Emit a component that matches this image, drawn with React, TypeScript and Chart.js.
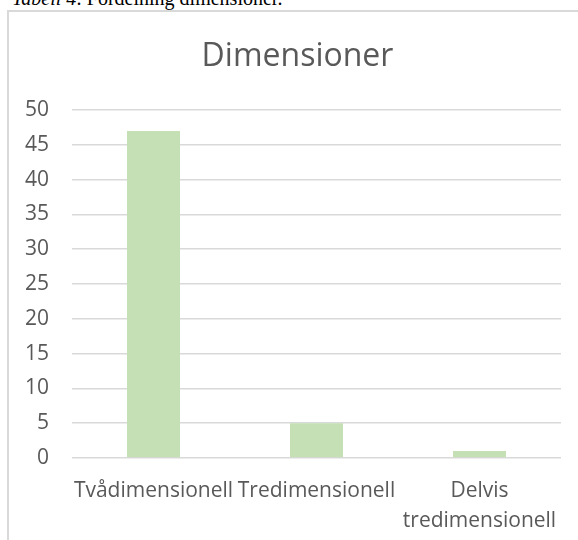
import React, { useEffect, useRef } from "react";
import { Chart, registerables } from "chart.js";

Chart.register(...registerables);

const categories: (string | string[])[] = ["Tvådimensionell", "Tredimensionell", ["Delvis", "tredimensionell"]];
const values: number[] = [47, 5, 1];
const chartTitle = "Dimensioner";
const captionItalic = "Tabell 4";
const captionRest = ": Fördelning dimensioner.";

const W = 578;
const H = 540;
const CW = 595;

export default function App() {
  const ref = useRef<HTMLCanvasElement | null>(null);

  useEffect(() => {
    document.body.style.overflow = "hidden";
    const canvas = ref.current;
    if (!canvas) return;
    const chart = new Chart(canvas, {
      type: "bar",
      data: {
        labels: categories as any,
        datasets: [
          {
            data: values,
            backgroundColor: "#c5e0b4",
            borderWidth: 0,
            categoryPercentage: 1,
            barPercentage: 0.325,
            yAxisID: "y",
          },
        ],
      },
      options: {
        responsive: false,
        animation: false,
        devicePixelRatio: 1,
        layout: { padding: { left: 0, right: 0, top: 0, bottom: 0 } },
        plugins: {
          legend: { display: false },
          tooltip: { enabled: false },
          title: {
            display: true,
            text: chartTitle,
            color: "#595959",
            font: { family: "'Open Sans'", size: 32, weight: "normal", lineHeight: 1.2 },
            padding: { top: 37.5, bottom: 34.1 },
          },
        },
        scales: {
          x: {
            grid: { display: false },
            border: { display: false },
            ticks: {
              color: "#595959",
              font: { family: "'Open Sans'", size: 21, lineHeight: 1.43 },
              padding: 10,
              maxRotation: 0,
              autoSkip: false,
            },
            afterFit: (scale: any) => {
              scale.height = 82;
            },
          },
          y: {
            min: 0,
            max: 50,
            border: { display: false },
            grid: { color: "#d9d9d9", lineWidth: 1.5, drawTicks: false },
            ticks: {
              stepSize: 5,
              color: "#595959",
              font: { family: "'Open Sans'", size: 21 },
              padding: 23,
            },
            afterFit: (scale: any) => {
              scale.width = 72;
            },
          },
          yRight: {
            position: "right",
            display: true,
            min: 0,
            max: 50,
            border: { display: false },
            grid: { display: false, drawTicks: false },
            ticks: { display: false },
            afterFit: (scale: any) => {
              scale.width = CW - 561;
            },
          },
        },
      },
    });
    return () => chart.destroy();
  }, []);

  return (
    <div
      style={{
        position: "fixed",
        left: 0,
        top: 0,
        width: W,
        height: H,
        overflow: "hidden",
        background: "#ffffff",
      }}
    >
      <div
        style={{
          position: "absolute",
          left: 12,
          top: -12,
          fontFamily: "'Liberation Serif', 'Times New Roman', serif",
          fontSize: 20,
          lineHeight: "20px",
          color: "#000",
          whiteSpace: "nowrap",
        }}
      >
        <i>{captionItalic}</i>
        {captionRest}
      </div>
      <div
        style={{
          position: "absolute",
          left: 7,
          top: 10,
          width: 700,
          height: 700,
          border: "2px solid #d9d9d9",
          boxSizing: "border-box",
        }}
      />
      <canvas
        ref={ref}
        width={CW}
        height={H}
        style={{ position: "absolute", left: 0, top: 0, width: CW, height: H }}
      />
    </div>
  );
}
